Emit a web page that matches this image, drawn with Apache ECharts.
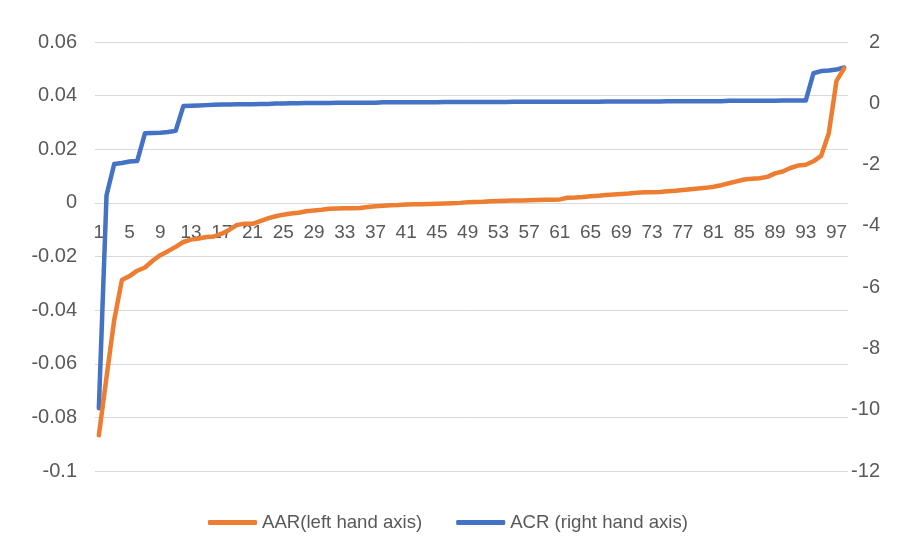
<!DOCTYPE html>
<html>
<head>
<meta charset="utf-8">
<script src="https://cdn.jsdelivr.net/npm/echarts@6/dist/echarts.min.js"></script>
<style>
html,body{margin:0;padding:0;background:#fff;}
#chart{width:906px;height:549px;}
</style>
</head>
<body>
<div id="chart"></div>
<script>
var categories = [];
for (var c = 1; c <= 98; c++) categories.push(String(c));

var aarName = 'AAR(left hand axis)';
var acrName = 'ACR (right hand axis)';

var aarValues = [
  -0.0867, -0.0650, -0.0437, -0.0288, -0.0273, -0.0253, -0.0241, -0.0216, -0.0195, -0.0180,
  -0.0164, -0.0146, -0.0137, -0.0133, -0.0127, -0.0125, -0.0115, -0.0100, -0.0082, -0.0078,
  -0.0078, -0.0068, -0.0058, -0.0050, -0.0044, -0.0040, -0.0037, -0.0031, -0.0028, -0.0026,
  -0.0022, -0.0021, -0.0020, -0.0020, -0.0019, -0.0015, -0.0013, -0.0011, -0.0009, -0.0008,
  -0.0006, -0.0005, -0.0005, -0.0004, -0.0003, -0.0002, -0.0001, 0.0000, 0.0002, 0.0003,
  0.0004, 0.0006, 0.0007, 0.0008, 0.0009, 0.0009, 0.0010, 0.0011, 0.0012, 0.0012,
  0.0013, 0.0019, 0.0020, 0.0022, 0.0025, 0.0027, 0.0029, 0.0031, 0.0033, 0.0035,
  0.0038, 0.0040, 0.0040, 0.0041, 0.0043, 0.0045, 0.0048, 0.0051, 0.0054, 0.0056,
  0.0060, 0.0066, 0.0073, 0.0080, 0.0087, 0.0090, 0.0092, 0.0097, 0.0110, 0.0117,
  0.0130, 0.0139, 0.0142, 0.0155, 0.0175, 0.0260, 0.0455, 0.0502
];

var acrValues = [
  -9.95, -3.00, -1.98, -1.95, -1.90, -1.88, -0.98, -0.97, -0.96, -0.94,
  -0.90, -0.09, -0.08, -0.07, -0.06, -0.05, -0.04, -0.04, -0.03, -0.03,
  -0.03, -0.02, -0.02, -0.01, -0.01, 0.00, 0.00, 0.01, 0.01, 0.01,
  0.01, 0.02, 0.02, 0.02, 0.02, 0.02, 0.02, 0.03, 0.03, 0.03,
  0.03, 0.03, 0.03, 0.03, 0.03, 0.04, 0.04, 0.04, 0.04, 0.04,
  0.04, 0.04, 0.04, 0.04, 0.05, 0.05, 0.05, 0.05, 0.05, 0.05,
  0.05, 0.05, 0.05, 0.05, 0.05, 0.05, 0.06, 0.06, 0.06, 0.06,
  0.06, 0.06, 0.06, 0.06, 0.07, 0.07, 0.07, 0.07, 0.07, 0.07,
  0.07, 0.07, 0.08, 0.08, 0.08, 0.08, 0.08, 0.08, 0.08, 0.09,
  0.09, 0.09, 0.09, 0.98, 1.05, 1.07, 1.10, 1.17
];

var leftTicks = { min: -0.1, max: 0.06, interval: 0.02 };
var rightTicks = { min: -12, max: 2, interval: 2 };

var FONT = 'Liberation Sans';
var TXT = '#595959';
var GRID = '#D9D9D9';

var gridTop = 42, gridBottom = 78, H = 549;
var plotH = H - gridTop - gridBottom;
// place the category axis where the left axis crosses zero
var zeroOffset = -plotH * (0 - leftTicks.min) / (leftTicks.max - leftTicks.min);

var chart = echarts.init(document.getElementById('chart'), null, { renderer: 'canvas' });
chart.setOption({
  animation: false,
  backgroundColor: '#ffffff',
  textStyle: { fontFamily: FONT },
  grid: { left: 95, right: 58, top: gridTop, bottom: gridBottom, containLabel: false },
  legend: {
    data: [aarName, acrName],
    left: 203,
    top: 508,
    itemWidth: 49,
    itemHeight: 5,
    itemGap: 34,
    icon: 'roundRect',
    textStyle: { color: TXT, fontSize: 18.6, fontFamily: FONT }
  },
  xAxis: {
    type: 'category',
    data: categories,
    boundaryGap: true,
    offset: zeroOffset,
    axisLine: { show: true, onZero: false, lineStyle: { color: GRID, width: 1 } },
    axisTick: { show: false },
    axisLabel: { interval: 3, color: TXT, fontSize: 19, fontFamily: FONT, margin: 20, hideOverlap: false },
    splitLine: { show: false }
  },
  yAxis: [
    {
      type: 'value',
      position: 'left',
      min: leftTicks.min, max: leftTicks.max, interval: leftTicks.interval,
      axisLine: { show: false },
      axisTick: { show: false },
      axisLabel: { color: TXT, fontSize: 20, fontFamily: FONT, margin: 18 },
      splitLine: { show: true, lineStyle: { color: GRID, width: 1 } }
    },
    {
      type: 'value',
      position: 'right',
      min: rightTicks.min, max: rightTicks.max, interval: rightTicks.interval,
      axisLine: { show: false },
      axisTick: { show: false },
      axisLabel: { color: TXT, fontSize: 20, fontFamily: FONT, margin: 32, align: 'right' },
      splitLine: { show: false }
    }
  ],
  series: [
    {
      name: aarName,
      type: 'line',
      yAxisIndex: 0,
      data: aarValues,
      showSymbol: false,
      symbol: 'none',
      z: 3,
      itemStyle: { color: '#ED7D31' },
      lineStyle: { color: '#ED7D31', width: 4.5, join: 'round', cap: 'round' }
    },
    {
      name: acrName,
      type: 'line',
      yAxisIndex: 1,
      data: acrValues,
      showSymbol: false,
      symbol: 'none',
      z: 2,
      itemStyle: { color: '#4472C4' },
      lineStyle: { color: '#4472C4', width: 4.5, join: 'round', cap: 'round' }
    }
  ]
});
</script>
</body>
</html>
